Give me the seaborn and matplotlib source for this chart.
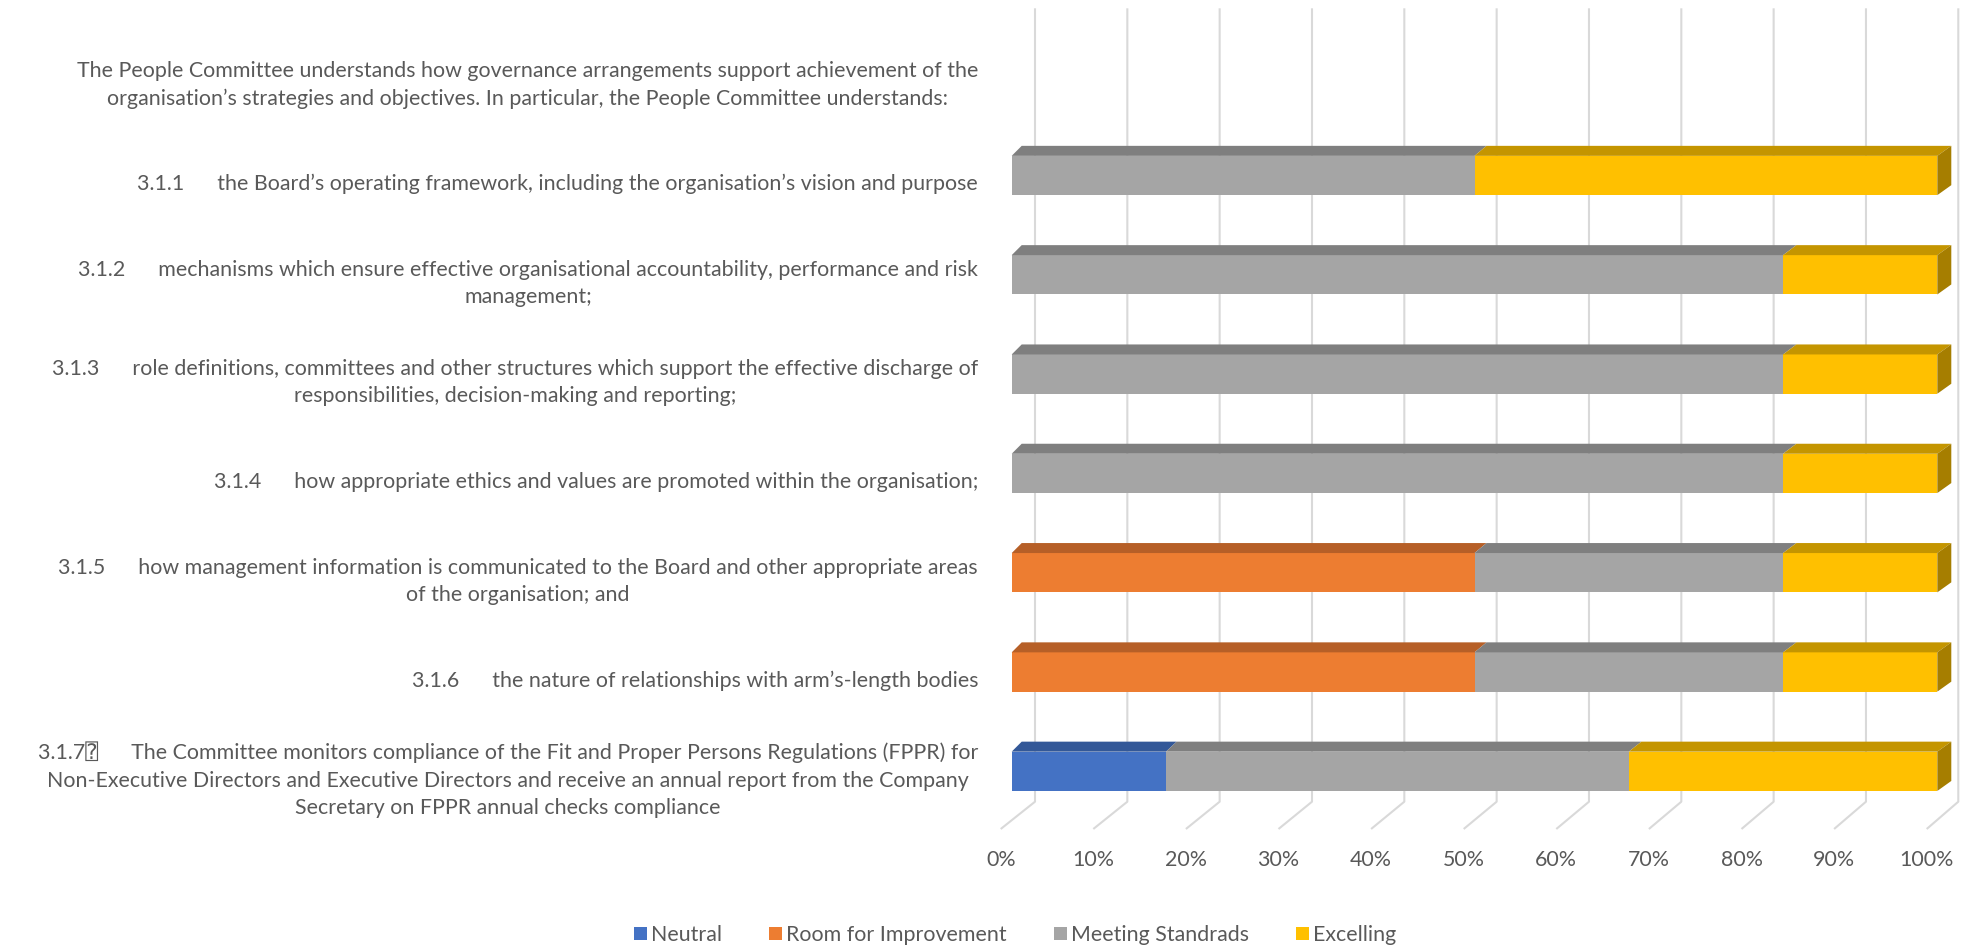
import numpy as np
import pandas as pd
import matplotlib
matplotlib.use("Agg")
import matplotlib.pyplot as plt
from matplotlib import font_manager
from matplotlib.patches import Polygon, Patch
import seaborn as sns

# ---- data -----------------------------------------------------------------
statements = [
    "The People Committee understands how governance arrangements support achievement of the\n"
    "organisation\u2019s strategies and objectives. In particular, the People Committee understands:",
    "3.1.1      the Board\u2019s operating framework, including the organisation\u2019s vision and purpose",
    "3.1.2      mechanisms which ensure effective organisational accountability, performance and risk\n"
    "management;",
    "3.1.3      role definitions, committees and other structures which support the effective discharge of\n"
    "responsibilities, decision-making and reporting;",
    "3.1.4      how appropriate ethics and values are promoted within the organisation;",
    "3.1.5      how management information is communicated to the Board and other appropriate areas\n"
    "of the organisation; and",
    "3.1.6      the nature of relationships with arm\u2019s-length bodies",
    "3.1.7\u2370      The Committee monitors compliance of the Fit and Proper Persons Regulations (FPPR) for\n"
    "Non-Executive Directors and Executive Directors and receive an annual report from the Company\n"
    "Secretary on FPPR annual checks compliance",
]

# number of responses per rating
neutral = [0, 0, 0, 0, 0, 0, 0, 1]
room_for_improvement = [0, 0, 0, 0, 0, 3, 3, 0]
meeting_standards = [0, 3, 5, 5, 5, 2, 2, 3]
excelling = [0, 3, 1, 1, 1, 1, 1, 2]

series_names = ["Neutral", "Room for Improvement", "Meeting Standrads", "Excelling"]
tick_percent = [0, 10, 20, 30, 40, 50, 60, 70, 80, 90, 100]

# ---- styling ----------------------------------------------------------------
front_colors = ["#4472C4", "#ED7D31", "#A5A5A5", "#FFC000"]
top_colors = ["#335898", "#B65F27", "#7F7F7F", "#C49500"]
side_colors = ["#2A4A80", "#9A5020", "#6B6B6B", "#A67E00"]
text_color = "#595959"
grid_color = "#D9D9D9"

W_PX, H_PX, DPI = 1969, 946, 100

# layout in figure pixels (origin top-left)
FRONT_X0, FRONT_W = 1011.7, 925.6      # 0..100 % on the bar front faces
ROW0_Y, ROW_STEP = 76.2, 99.3          # centre of first row, row pitch
BAR_H = 39.3 / ROW_STEP                # front-face thickness in row units
DEPTH_Y = 10.0 / ROW_STEP              # bar depth (vertical component)
BACK_X0, BACK_X1 = 1035.0, 1958.3      # back wall grid 0 % / 100 %
FLOOR_X0, FLOOR_X1 = 1000.7, 1926.7    # front edge of the floor
GRID_TOP, GRID_FLOOR, GRID_FRONT, TICK_Y = 8.3, 801.7, 829.0, 860.0
LABEL_RIGHT = 978.0
LABEL_COL_W = 900.0
LINE_PITCH = 29.0                      # distance between wrapped label lines
LEGEND_CX, LEGEND_CY = 1015.0, 935.0


def px_x(px):
    return (px - FRONT_X0) / FRONT_W


def px_y(py):
    return (py - ROW0_Y) / ROW_STEP


def depth_x(v):
    # slight perspective: the depth offset grows to the right
    return (10.0 + 4.0 * v) / FRONT_W


sns.set_theme(style="white")
available = {f.name for f in font_manager.fontManager.ttflist}
base_family = next((f for f in ["Liberation Sans Narrow", "Lato", "Roboto", "Noto Sans"]
                    if f in available), "DejaVu Sans")
plt.rcParams["font.family"] = [base_family, "DejaVu Sans", "DejaVu Sans Mono"]

# ---- shares ---------------------------------------------------------------
counts = pd.DataFrame({
    "Neutral": neutral,
    "Room for Improvement": room_for_improvement,
    "Meeting Standrads": meeting_standards,
    "Excelling": excelling,
}, index=statements)
totals = counts.sum(axis=1).replace(0, np.nan)
shares = counts.div(totals, axis=0).fillna(0.0)
cumulative = shares.cumsum(axis=1)

fig = plt.figure(figsize=(W_PX / DPI, H_PX / DPI), dpi=DPI)
ax = fig.add_axes([0, 0, 1, 1])

# front faces: cumulative totals drawn from the widest down
for k in range(len(series_names) - 1, -1, -1):
    frame = pd.DataFrame({"statement": statements,
                          "value": cumulative.iloc[:, k].values})
    sns.barplot(data=frame, x="value", y="statement", order=statements,
                orient="h", color=front_colors[k], saturation=1,
                width=BAR_H, errorbar=None, linewidth=0, ax=ax, zorder=3)

# top and end faces of the 3-D bars
for i, row in enumerate(statements):
    y_top = i - BAR_H / 2
    y_bot = i + BAR_H / 2
    left = 0.0
    last = None
    for k in range(len(series_names)):
        share = shares.iloc[i, k]
        if share <= 0:
            continue
        right = left + share
        top = Polygon([(left, y_top), (right, y_top),
                       (right + depth_x(right), y_top - DEPTH_Y),
                       (left + depth_x(left), y_top - DEPTH_Y)],
                      closed=True, facecolor=top_colors[k], edgecolor="none",
                      zorder=3)
        ax.add_patch(top)
        last = (k, right)
        left = right
    if last is not None:
        k, right = last
        side = Polygon([(right, y_top), (right, y_bot),
                        (right + depth_x(right), y_bot - DEPTH_Y),
                        (right + depth_x(right), y_top - DEPTH_Y)],
                       closed=True, facecolor=side_colors[k], edgecolor="none",
                       zorder=3)
        ax.add_patch(side)

# back-wall gridlines bending onto the floor
for p in tick_percent:
    v = p / 100
    xb = px_x(BACK_X0 + (BACK_X1 - BACK_X0) * v)
    xf = px_x(FLOOR_X0 + (FLOOR_X1 - FLOOR_X0) * v)
    ax.plot([xb, xb, xf], [px_y(GRID_TOP), px_y(GRID_FLOOR), px_y(GRID_FRONT)],
            color=grid_color, lw=1.5, solid_capstyle="butt", zorder=1)

# pick a label size so the widest label line fits the label column,
# and a line spacing giving the wanted pitch between wrapped lines
renderer = fig.canvas.get_renderer()
probe = fig.text(0, 0, statements[0].split("\n")[0], fontsize=20)
probe_w = probe.get_window_extent(renderer).width
probe.remove()
font_size = 20 * LABEL_COL_W / probe_w

probe2 = fig.text(0, 0, "A\nA", fontsize=font_size, linespacing=1.0)
two_h = probe2.get_window_extent(renderer).height
probe3 = fig.text(0, 0, "A", fontsize=font_size, linespacing=1.0)
one_h = probe3.get_window_extent(renderer).height
probe2.remove()
probe3.remove()
line_spacing = LINE_PITCH / (two_h - one_h)

for i, row in enumerate(statements):
    ax.text(px_x(LABEL_RIGHT), i + 0.085, row, ha="right", va="center",
            multialignment="center", fontsize=font_size, color=text_color,
            linespacing=line_spacing)

for p in tick_percent:
    v = p / 100
    xf = px_x(FLOOR_X0 + (FLOOR_X1 - FLOOR_X0) * v)
    ax.text(xf, px_y(TICK_Y), f"{p}%", ha="center", va="center",
            fontsize=font_size, color=text_color)

ax.set_xlim(px_x(0), px_x(W_PX))
ax.set_ylim(px_y(H_PX), px_y(0))
ax.set_axis_off()

handles = [Patch(facecolor=c, edgecolor="none", label=n)
           for c, n in zip(front_colors, series_names)]
fig.legend(handles=handles, loc="center", ncol=4, frameon=False,
           bbox_to_anchor=(LEGEND_CX / W_PX, 1 - LEGEND_CY / H_PX),
           fontsize=font_size, labelcolor=text_color,
           handlelength=0.6, handleheight=0.6, handletextpad=0.2,
           columnspacing=2.2, borderaxespad=0)

fig.savefig("out.png", dpi=DPI, facecolor="white")
